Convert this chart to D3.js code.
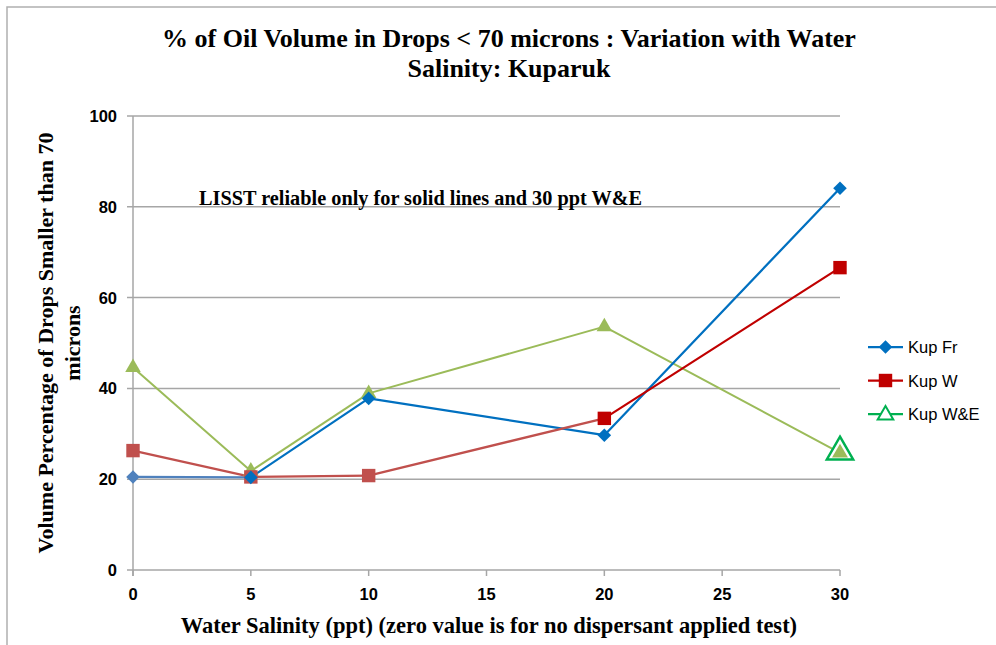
<!DOCTYPE html>
<html>
<head>
<meta charset="utf-8">
<script src="https://cdn.jsdelivr.net/npm/d3@7"></script>
<style>
  html, body { margin: 0; padding: 0; background: #fff; }
  svg { display: block; }
</style>
</head>
<body>
<svg id="chart" width="996" height="645"></svg>
<script>
// Water salinity (ppt); 0 = no dispersant applied
const salinity = [0, 5, 10, 20, 30];
const seriesNames = ["Kup Fr", "Kup W", "Kup W&E"];
const kupFr = [20.5, 20.4, 37.8, 29.7, 84.1];
const kupW = [26.3, 20.5, 20.8, 33.4, 66.6];
const kupWE = [44.6, 21.8, 38.9, 53.6, 25.8];
const yTicks = [0, 20, 40, 60, 80, 100];
const xTicks = [0, 5, 10, 15, 20, 25, 30];

// Per-segment and per-marker colours (lighter shades mark the less reliable readings)
const frSegColors = ["#4F81BD", "#0070C0", "#0070C0", "#0070C0"];
const frPtColors = ["#4F81BD", "#0070C0", "#0070C0", "#0070C0", "#0070C0"];
const wSegColors = ["#C0504D", "#C0504D", "#C0504D", "#C00000"];
const wPtColors = ["#C0504D", "#C0504D", "#C0504D", "#C00000", "#C00000"];
const weColor = "#9BBB59";
const weHighlight = "#00B050";

const svg = d3.select("#chart");
const serif = "'Liberation Serif', 'Times New Roman', serif";
const sans = "'Liberation Sans', Arial, sans-serif";
const gridColor = "#A6A6A6";

// chart frame
svg.append("path")
  .attr("d", "M7,645 L7,7 L996,7")
  .attr("fill", "none").attr("stroke", "#B0B0B0").attr("stroke-width", 1.5);

const x = d3.scaleLinear().domain([0, 30]).range([133, 840]);
const y = d3.scaleLinear().domain([0, 100]).range([570, 116]);

// horizontal gridlines (with short tick stubs left of the axis)
svg.append("g").selectAll("line").data(yTicks).join("line")
  .attr("x1", x(0) - 6).attr("x2", x(30))
  .attr("y1", d => y(d)).attr("y2", d => y(d))
  .attr("stroke", gridColor).attr("stroke-width", 1.5);

// y axis line
svg.append("line")
  .attr("x1", x(0)).attr("x2", x(0))
  .attr("y1", y(100)).attr("y2", y(0) + 6)
  .attr("stroke", gridColor).attr("stroke-width", 1.5);

// x tick marks
svg.append("g").selectAll("line").data(xTicks).join("line")
  .attr("x1", d => x(d)).attr("x2", d => x(d))
  .attr("y1", y(0)).attr("y2", y(0) + 6)
  .attr("stroke", gridColor).attr("stroke-width", 1.5);

// tick labels
svg.append("g").selectAll("text").data(yTicks).join("text")
  .attr("x", x(0) - 16).attr("y", d => y(d) + 6)
  .attr("text-anchor", "end")
  .attr("font-family", sans).attr("font-weight", "bold").attr("font-size", 16.5)
  .text(d => d);
svg.append("g").selectAll("text").data(xTicks).join("text")
  .attr("x", d => x(d)).attr("y", y(0) + 30)
  .attr("text-anchor", "middle")
  .attr("font-family", sans).attr("font-weight", "bold").attr("font-size", 16.5)
  .text(d => d);

// titles
const title = svg.append("text")
  .attr("text-anchor", "middle")
  .attr("font-family", serif).attr("font-weight", "bold").attr("font-size", 26);
title.append("tspan").attr("x", 509).attr("y", 47)
  .text("% of Oil Volume in Drops < 70 microns : Variation with Water");
title.append("tspan").attr("x", 509).attr("y", 77)
  .text("Salinity: Kuparuk");

svg.append("text")
  .attr("x", 489).attr("y", 633)
  .attr("text-anchor", "middle")
  .attr("font-family", serif).attr("font-weight", "bold").attr("font-size", 22.5)
  .text("Water Salinity (ppt) (zero value is for no dispersant applied test)");

const yTitle = svg.append("text")
  .attr("transform", "translate(0,343) rotate(-90)")
  .attr("text-anchor", "middle")
  .attr("font-family", serif).attr("font-weight", "bold").attr("font-size", 22);
yTitle.append("tspan").attr("x", 0).attr("y", 53)
  .text("Volume Percentage of Drops Smaller than 70");
yTitle.append("tspan").attr("x", 0).attr("y", 80)
  .text("microns");

svg.append("text")
  .attr("x", 199).attr("y", 205)
  .attr("font-family", serif).attr("font-weight", "bold").attr("font-size", 20.3)
  .text("LISST reliable only for solid lines and 30 ppt W&E");

// helpers for segment lines
function segments(vals) {
  return d3.pairs(salinity.map((s, i) => [x(s), y(vals[i])]));
}
function drawSegments(vals, colors, width) {
  svg.append("g").selectAll("line").data(segments(vals)).join("line")
    .attr("x1", d => d[0][0]).attr("y1", d => d[0][1])
    .attr("x2", d => d[1][0]).attr("y2", d => d[1][1])
    .attr("stroke", (d, i) => colors[i]).attr("stroke-width", width)
    .attr("stroke-linecap", "round");
}

const diamond = d3.symbol(d3.symbolSquare, 92)();
const square = d3.symbol(d3.symbolSquare, 180)();
const triangle = d3.symbol(d3.symbolTriangle, 105)();
const bigTriangle = d3.symbol(d3.symbolTriangle, 300)();
const innerTriangle = d3.symbol(d3.symbolTriangle, 110)();

// lines
drawSegments(kupWE, salinity.slice(1).map(() => weColor), 2);
drawSegments(kupFr, frSegColors, 2.25);
drawSegments(kupW, wSegColors, 2.25);

// Kup W&E markers; the 30 ppt reading is outlined
const weLast = salinity.length - 1;
svg.append("path")
  .attr("d", bigTriangle)
  .attr("transform", `translate(${x(salinity[weLast])},${y(kupWE[weLast]) - 1})`)
  .attr("fill", "#fff").attr("stroke", weHighlight).attr("stroke-width", 2.5);
svg.append("g").selectAll("path").data(salinity).join("path")
  .attr("d", (d, i) => i === weLast ? innerTriangle : triangle)
  .attr("transform", (d, i) => `translate(${x(d)},${y(kupWE[i])})`)
  .attr("fill", weColor);

// Kup W markers
svg.append("g").selectAll("path").data(salinity).join("path")
  .attr("d", square)
  .attr("transform", (d, i) => `translate(${x(d)},${y(kupW[i])})`)
  .attr("fill", (d, i) => wPtColors[i]);

// Kup Fr markers
svg.append("g").selectAll("path").data(salinity).join("path")
  .attr("d", diamond)
  .attr("transform", (d, i) => `translate(${x(d)},${y(kupFr[i])}) rotate(45)`)
  .attr("fill", (d, i) => frPtColors[i]);

// legend
const legendRows = [
  { name: seriesNames[0], color: "#0070C0" },
  { name: seriesNames[1], color: "#C00000" },
  { name: seriesNames[2], color: weHighlight }
];
const lg = svg.append("g").selectAll("g").data(legendRows).join("g")
  .attr("transform", (d, i) => `translate(868,${347 + i * 33.5})`);
lg.append("line").attr("x1", 0).attr("x2", 35).attr("y1", 0).attr("y2", 0)
  .attr("stroke", d => d.color).attr("stroke-width", 2.25);
lg.append("path")
  .attr("d", (d, i) => i === 0 ? diamond : i === 1 ? square : triangle)
  .attr("transform", (d, i) => `translate(17.5,${i === 2 ? 1 : 0})` + (i === 0 ? " rotate(45)" : ""))
  .attr("fill", (d, i) => i === 2 ? "#fff" : d.color)
  .attr("stroke", (d, i) => i === 2 ? d.color : "none")
  .attr("stroke-width", 2);
lg.append("text")
  .attr("x", 40).attr("y", 6)
  .attr("font-family", sans).attr("font-size", 16.5)
  .text(d => d.name);
</script>
</body>
</html>
